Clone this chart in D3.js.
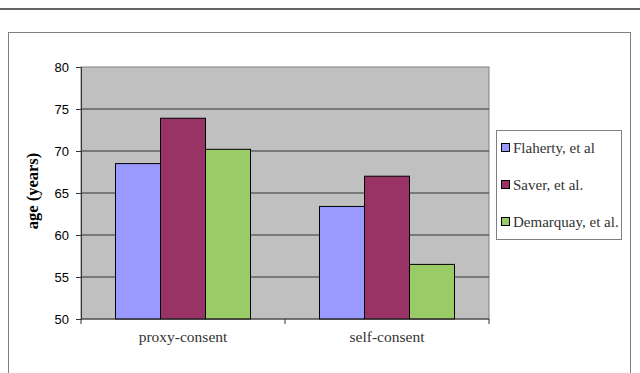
<!DOCTYPE html>
<html><head><meta charset="utf-8">
<script src="https://cdn.jsdelivr.net/npm/d3@7"></script>
<style>body{margin:0;background:#fff}svg{display:block}</style>
</head><body>
<svg id="c" width="640" height="373"></svg>
<script>
const categories = ["proxy-consent", "self-consent"];
const seriesNames = ["Flaherty, et al", "Saver, et al.", "Demarquay, et al."];
const flaherty = [68.5, 63.4];
const saver = [73.9, 67.0];
const demarquay = [70.2, 56.5];
const yTicks = [50, 55, 60, 65, 70, 75, 80];
const colors = ["#9999ff", "#993366", "#99cc66"];
const series = [flaherty, saver, demarquay];

const svg = d3.select("#c");
// top rule
svg.append("line").attr("x1",0).attr("x2",640).attr("y1",9).attr("y2",9)
  .attr("stroke","#333").attr("stroke-width",1.5);
// outer chart border
svg.append("rect").attr("x",8.5).attr("y",32.5).attr("width",622).attr("height",360)
  .attr("fill","#fff").attr("stroke","#7f7f7f").attr("stroke-width",1);

const L=81, R=489, T=67, B=319;
const x0 = d3.scaleBand().domain(categories).range([L,R]).paddingInner(0).paddingOuter(0);
const x1 = d3.scaleBand().domain(seriesNames).range([34.5, x0.bandwidth()-34.5]);
const y = d3.scaleLinear().domain([50,80]).range([B,T]);

svg.append("rect").attr("x",L).attr("y",T).attr("width",R-L).attr("height",B-T)
  .attr("fill","#c0c0c0").attr("stroke","#808080");

svg.append("g").selectAll("line").data(yTicks.slice(1,-1)).join("line")
  .attr("x1",L).attr("x2",R).attr("y1",d=>y(d)).attr("y2",d=>y(d))
  .attr("stroke","#333").attr("stroke-width",1);

// bars
const g = svg.append("g");
categories.forEach((c,ci)=>{
  series.forEach((s,si)=>{
    g.append("rect")
      .attr("x", x0(c)+x1(seriesNames[si]))
      .attr("y", y(s[ci]))
      .attr("width", x1.bandwidth())
      .attr("height", y(50)-y(s[ci]))
      .attr("fill", colors[si]).attr("stroke","#000").attr("stroke-width",1);
  });
});

// y axis
const ya = svg.append("g").attr("transform",`translate(${L},0)`)
  .call(d3.axisLeft(y).tickValues(yTicks).tickSize(5).tickPadding(7));
ya.select(".domain").attr("stroke","#333");
ya.selectAll("line").attr("stroke","#333");
ya.selectAll("text").attr("font-family","Liberation Sans, Arial, sans-serif").attr("font-size",13).attr("fill","#000");

// x axis
svg.append("line").attr("x1",L).attr("x2",R).attr("y1",B).attr("y2",B).attr("stroke","#333");
const xt = [L, L+x0.bandwidth(), R];
svg.append("g").selectAll("line").data(xt).join("line")
  .attr("x1",d=>d).attr("x2",d=>d).attr("y1",B).attr("y2",B+5).attr("stroke","#333");
svg.append("g").selectAll("text").data(categories).join("text")
  .attr("x",d=>x0(d)+x0.bandwidth()/2).attr("y",342)
  .attr("text-anchor","middle").attr("font-family","Liberation Serif, serif").attr("font-size",15.5)
  .attr("fill","#333").text(d=>d);

// y label
svg.append("text").attr("transform","translate(38,191) rotate(-90)")
  .attr("text-anchor","middle").attr("font-family","Liberation Serif, serif").attr("font-weight","bold")
  .attr("font-size",16.5).text("age (years)");

// legend
const lg = svg.append("g");
lg.append("rect").attr("x",496.5).attr("y",130.5).attr("width",125).attr("height",109)
  .attr("fill","#fff").attr("stroke","#7f7f7f");
seriesNames.forEach((n,i)=>{
  const cy = 148 + i*37;
  lg.append("rect").attr("x",501.5).attr("y",cy-4.5).attr("width",8).attr("height",8)
    .attr("fill",colors[i]).attr("stroke","#000");
  lg.append("text").attr("x",513).attr("y",cy+5).attr("font-family","Liberation Serif, serif")
    .attr("font-size",15).attr("fill","#333").text(n);
});
</script>
</body></html>
